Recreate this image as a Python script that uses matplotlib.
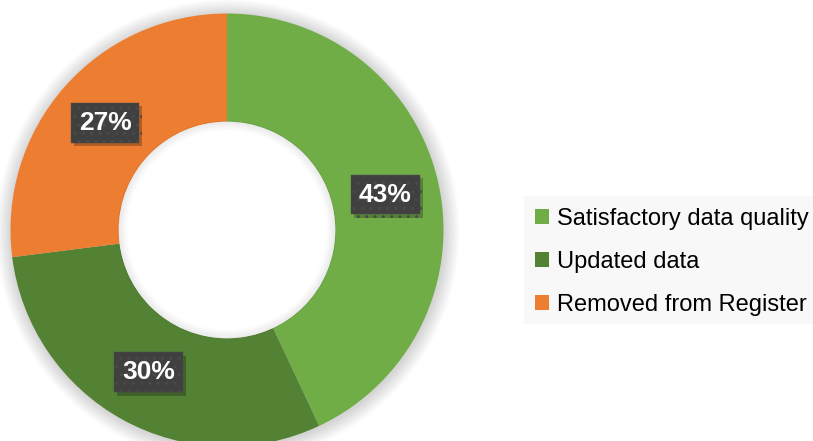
import matplotlib
matplotlib.use("Agg")
import matplotlib.pyplot as plt
from matplotlib import patheffects
from matplotlib.patches import Rectangle, Circle

plt.rcParams["font.family"] = ["Liberation Sans", "DejaVu Sans"]

labels = ["Satisfactory data quality", "Updated data", "Removed from Register"]
shares = [43, 30, 27]
colors = ["#70ad47", "#548235", "#ed7d31"]

W, H = 813, 441
fig = plt.figure(figsize=(W / 100, H / 100), dpi=100)

# donut centre (227, 230) px, outer radius 216.5 px
cx, cy, R = 227, 230, 216.5
ax = fig.add_axes([(cx - R) / W, (H - cy - R) / H, 2 * R / W, 2 * R / H])

# soft shadow around the ring
for i in range(14):
    ax.add_patch(Circle((0.004, -0.006), 1 + 0.005 * (14 - i), facecolor="#000000",
                        alpha=0.011, edgecolor="none", zorder=0, clip_on=False))

wedges, _, autotexts = ax.pie(
    shares, colors=colors, startangle=90, counterclock=False, radius=1,
    autopct="%1.0f%%", pctdistance=0.75,
    wedgeprops=dict(width=0.5, edgecolor="none"),
    textprops=dict(color="white", fontsize=19, fontweight="bold"),
)
for w in wedges:
    w.set_zorder(1)

# clear the hole, then a soft shadow along its rim
ax.add_patch(Circle((0, 0), 0.5, facecolor="white", edgecolor="none", zorder=1.5))
for i in range(10):
    ax.add_patch(Circle((0, 0), 0.5 - 0.004 * i, fill=False, edgecolor="#000000",
                        linewidth=1.8, alpha=0.03 * (10 - i) / 10, zorder=2))

for t in autotexts:
    t.set_zorder(5)
    t.set_bbox(dict(boxstyle="square,pad=0.3", facecolor="#404040", edgecolor="#4a4a4a",
                    hatch="..", linewidth=0.3))
    t.get_bbox_patch().set_path_effects([
        patheffects.SimplePatchShadow(offset=(2, -2.5), shadow_rgbFace="black", alpha=0.25),
        patheffects.Normal(),
    ])

ax.set_xlim(-1, 1)
ax.set_ylim(-1, 1)
ax.set_aspect("equal")
ax.axis("off")

fig.patches.append(Rectangle((524 / W, (H - 324) / H), (W - 524) / W, 128 / H,
                             transform=fig.transFigure, facecolor="#f8f8f8",
                             edgecolor="none", zorder=0))

fig.legend(wedges, labels, loc="center left", bbox_to_anchor=(535 / W, (H - 262) / H),
           frameon=False, fontsize=17, handlelength=0.6, handleheight=0.6,
           handletextpad=0.35, labelspacing=0.9, borderaxespad=0, borderpad=0,
           labelcolor="#000000")

fig.savefig("out.png", dpi=100, facecolor="white")
